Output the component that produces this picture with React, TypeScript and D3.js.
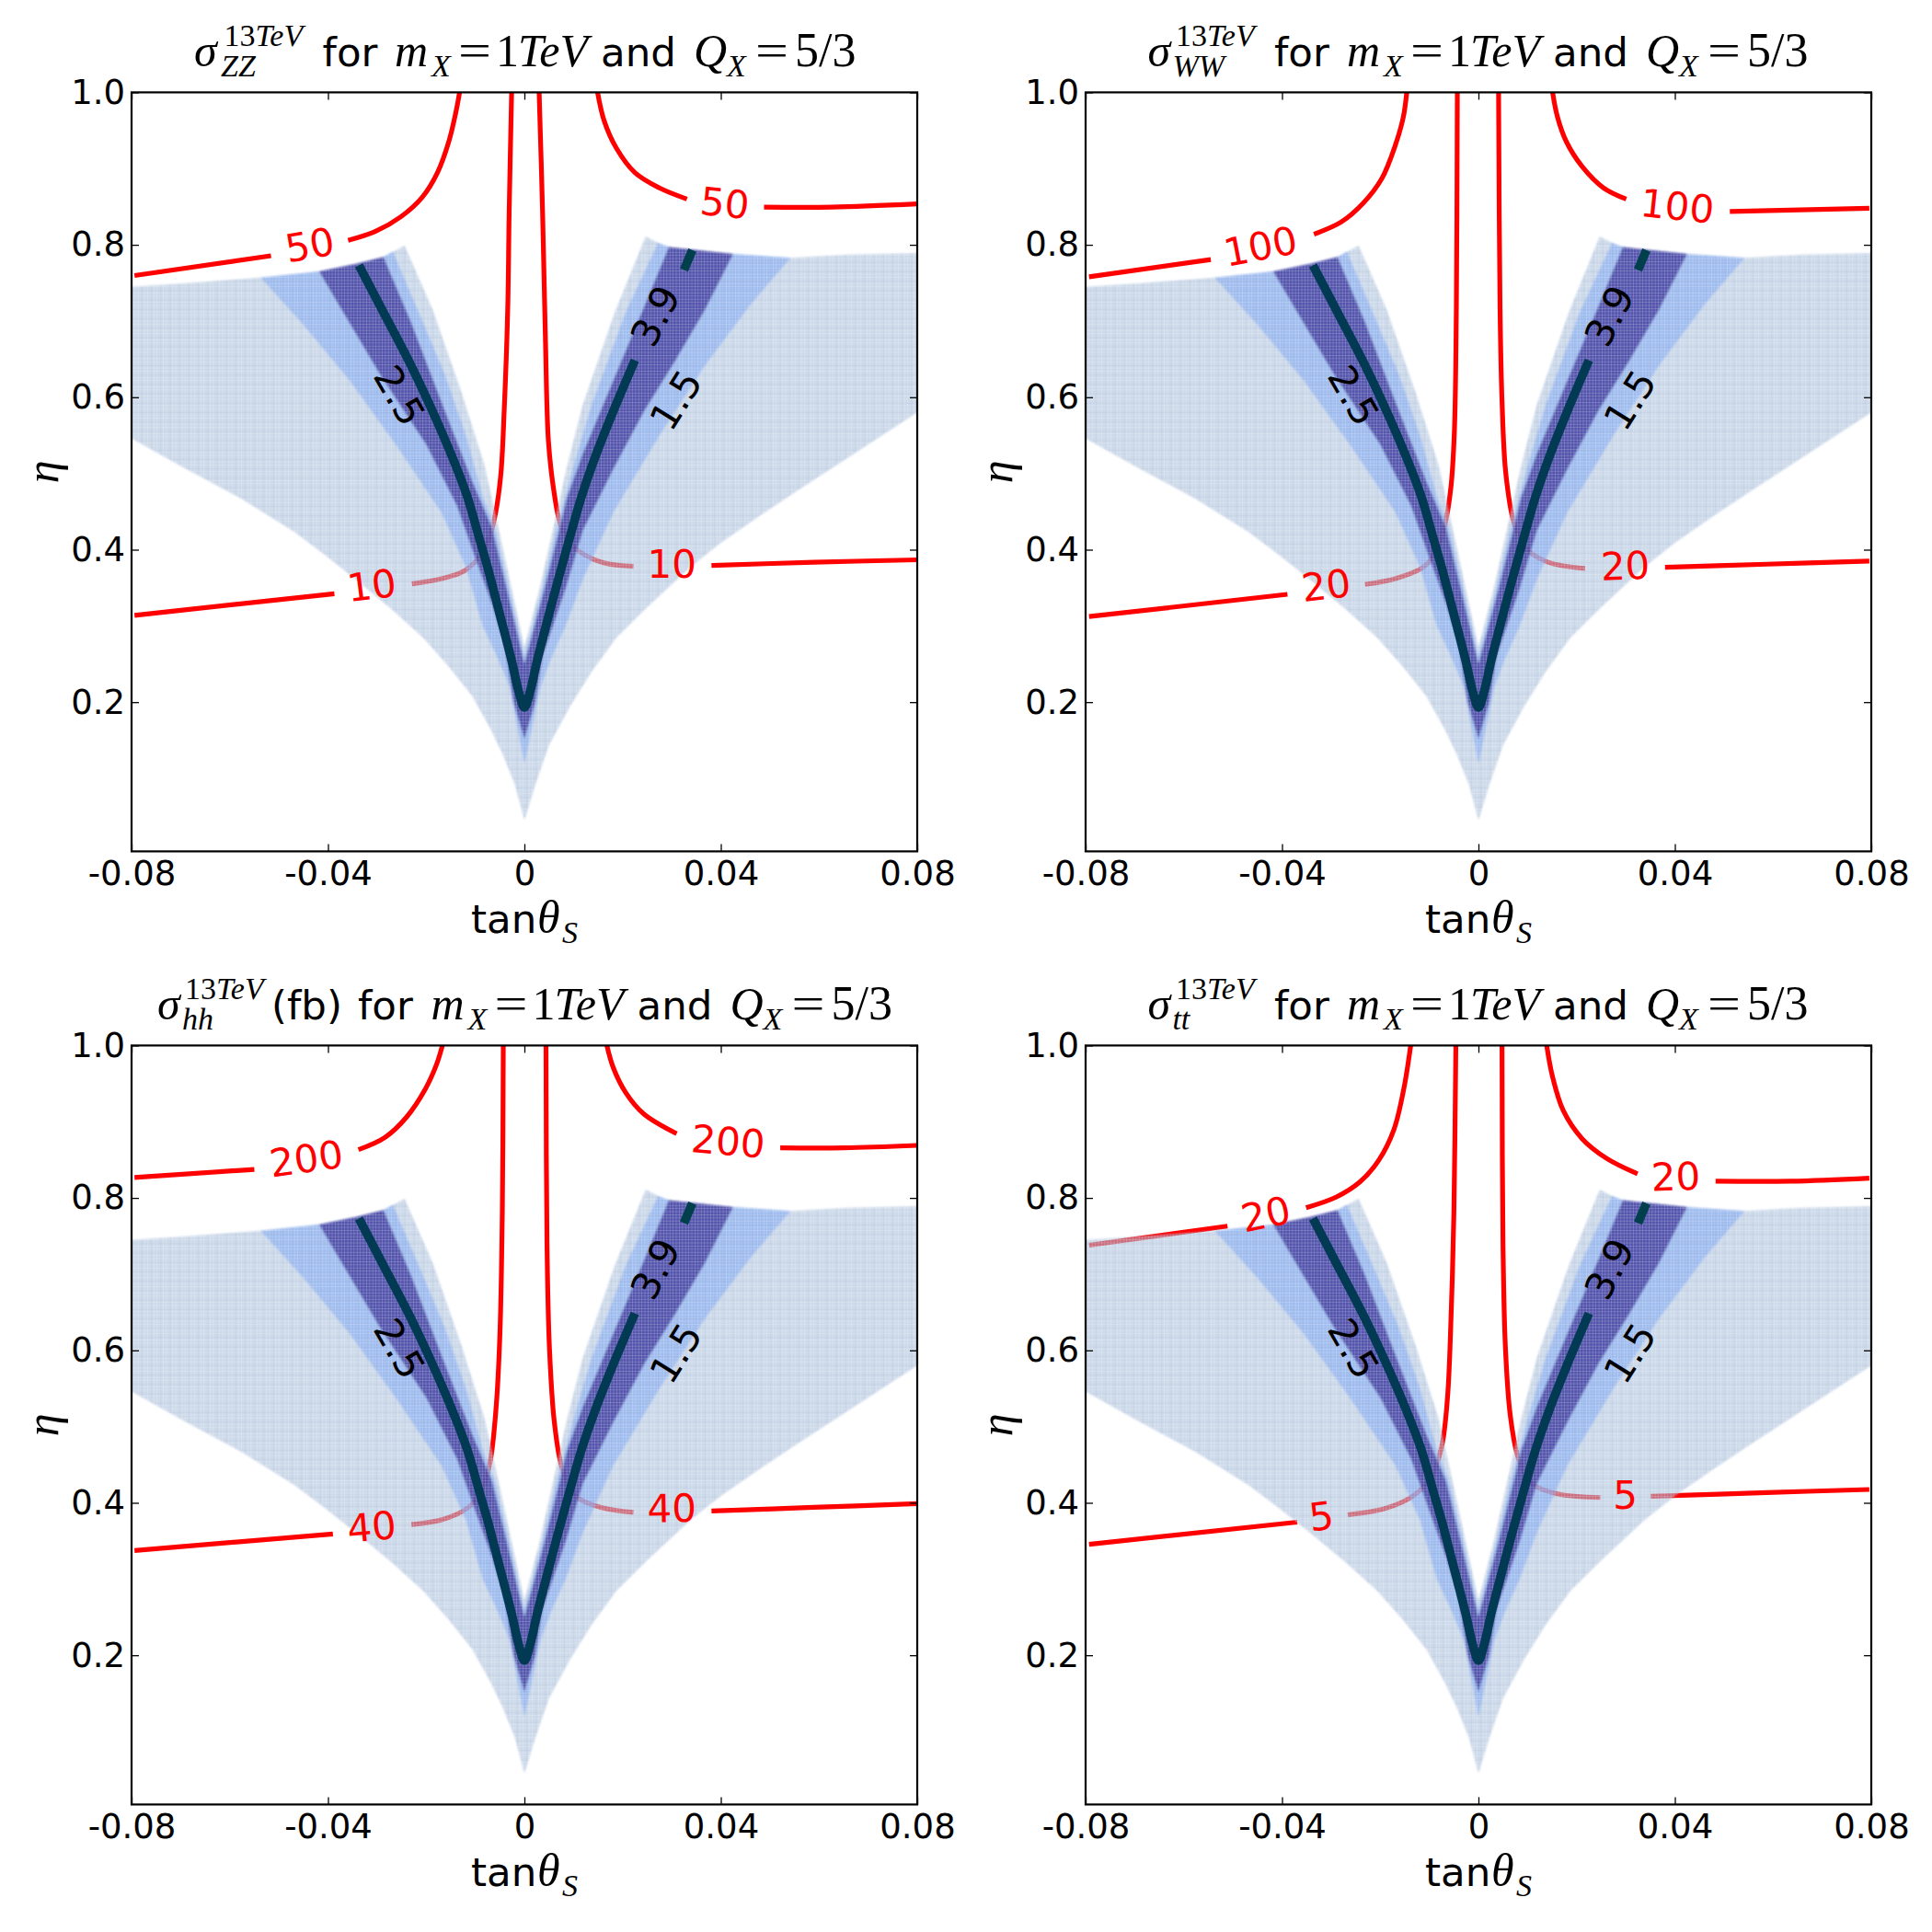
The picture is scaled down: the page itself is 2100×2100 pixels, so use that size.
import React, { useEffect, useRef } from 'react';
import * as d3 from 'd3';

type Pt = [number, number];
type Lab = [string, number, number, number];

const xTicks = [-0.08, -0.04, 0, 0.04, 0.08];
const xTickLabels = ['-0.08', '-0.04', '0', '0.04', '0.08'];
const yTicks = [0.2, 0.4, 0.6, 0.8, 1.0];

// scatter regions (tan, eta)
const lightRegion: Pt[] = [
  [-0.08, 0.745], [-0.0699, 0.749], [-0.0537, 0.757], [-0.0418, 0.765], [-0.0343, 0.775], [-0.0287, 0.784], [-0.0244, 0.799],
  [-0.0187, 0.715], [-0.0128, 0.606], [-0.0081, 0.51], [-0.0053, 0.429], [-0.0026, 0.349], [0, 0.272],
  [0.0031, 0.349], [0.0059, 0.429], [0.0087, 0.5096], [0.0119, 0.59], [0.0184, 0.711], [0.0247, 0.811],
  [0.0272, 0.8025], [0.0294, 0.797], [0.0368, 0.792], [0.0425, 0.788], [0.0542, 0.783], [0.0662, 0.787], [0.08, 0.789],
  [0.08, 0.58], [0.0681, 0.53], [0.0556, 0.4775], [0.0481, 0.4453], [0.04, 0.4091], [0.0337, 0.3768], [0.025, 0.3246],
  [0.0187, 0.2844], [0.0137, 0.2401], [0.0094, 0.1958], [0.005, 0.1435], [0.0022, 0.0913], [0, 0.045],
  [-0.0019, 0.0913], [-0.0044, 0.1314], [-0.0068, 0.1637], [-0.0106, 0.2078], [-0.0156, 0.2482], [-0.0206, 0.2844], [-0.0268, 0.3206],
  [-0.0343, 0.3608], [-0.0406, 0.393], [-0.0468, 0.4232], [-0.0575, 0.4665], [-0.0699, 0.5094], [-0.08, 0.546],
];
const mediumRegion: Pt[] = [
  [-0.0537, 0.757], [-0.0418, 0.765], [-0.0343, 0.775], [-0.0287, 0.784], [-0.0268, 0.791],
  [-0.0215, 0.711], [-0.0162, 0.63], [-0.0119, 0.55], [-0.0085, 0.47], [-0.006, 0.429], [-0.0031, 0.349], [0, 0.26],
  [0.0036, 0.349], [0.0066, 0.429], [0.01, 0.5096], [0.0137, 0.59], [0.0206, 0.711], [0.0272, 0.8025],
  [0.0294, 0.797], [0.0368, 0.792], [0.0425, 0.788], [0.0542, 0.783],
  [0.0462, 0.723], [0.0368, 0.642], [0.0275, 0.55], [0.0181, 0.449], [0.0119, 0.361], [0.0084, 0.3], [0.0056, 0.26], [0.0033, 0.22], [0, 0.119],
  [-0.003, 0.22], [-0.0056, 0.26], [-0.0085, 0.3], [-0.0119, 0.377], [-0.0169, 0.449], [-0.0262, 0.538], [-0.0356, 0.622], [-0.045, 0.695],
];
const darkRegion: Pt[] = [
  [-0.0418, 0.765], [-0.0343, 0.775], [-0.0287, 0.784],
  [-0.0231, 0.6987], [-0.0169, 0.594], [-0.0106, 0.4895], [-0.0066, 0.429], [-0.0036, 0.349], [0, 0.25],
  [0.0041, 0.349], [0.0072, 0.429], [0.0087, 0.469], [0.0119, 0.526], [0.0181, 0.622], [0.0244, 0.719], [0.0294, 0.797],
  [0.0368, 0.792], [0.0425, 0.788],
  [0.0368, 0.715], [0.0306, 0.6465], [0.0244, 0.582], [0.0181, 0.5056], [0.0119, 0.425], [0.0084, 0.349], [0.0037, 0.26], [0.0022, 0.2], [0, 0.1516],
  [-0.0022, 0.2], [-0.0041, 0.276], [-0.0066, 0.3286], [-0.01, 0.389], [-0.0137, 0.457], [-0.02, 0.538], [-0.0294, 0.63], [-0.0387, 0.731],
];

// navy contour, same in every panel
const navyLower: Pt[] = [
  [-0.0337, 0.773], [-0.029, 0.715], [-0.0228, 0.638], [-0.0179, 0.57], [-0.0137, 0.5056], [-0.0116, 0.469], [-0.0091, 0.413],
  [-0.0075, 0.377], [-0.0052, 0.32], [-0.0025, 0.252], [-0.0012, 0.215], [0, 0.193],
  [0.0012, 0.215], [0.0025, 0.252], [0.0048, 0.31], [0.0069, 0.361], [0.0092, 0.415], [0.0116, 0.469], [0.0145, 0.523], [0.018, 0.58], [0.0225, 0.6484],
];
const navyUpper: Pt[] = [[0.0325, 0.767], [0.0342, 0.793]];
const blackLabels: Lab[] = [['2.5', -0.0255, 0.6022, 60], ['3.9', 0.0267, 0.7068, -63], ['1.5', 0.0309, 0.5961, -58]];

// red contours, one list of cut segments per panel
const zzContours: Pt[][] = [
  [[-0.0794, 0.7597], [-0.0516, 0.7856]],
  [[-0.0359, 0.8058], [-0.0302, 0.818], [-0.0252, 0.8366], [-0.0208, 0.8625], [-0.0177, 0.8948], [-0.0154, 0.9353], [-0.0139, 0.9757], [-0.0132, 1]],
  [[0.0149, 1], [0.0162, 0.9636], [0.0187, 0.9272], [0.0225, 0.8948], [0.0275, 0.8746], [0.0331, 0.86]],
  [[0.0488, 0.8495], [0.0626, 0.8495], [0.08, 0.8536]],
  [[-0.0794, 0.3139], [-0.0387, 0.3422]],
  [[-0.0229, 0.3552], [-0.0171, 0.3616], [-0.0124, 0.3716], [-0.0091, 0.3909], [-0.0071, 0.4168], [-0.0059, 0.447], [-0.0048, 0.4987], [-0.0041, 0.5849], [-0.0034, 0.7143], [-0.0031, 0.8436], [-0.0026, 1]],
  [[0.003, 1], [0.0037, 0.8436], [0.0043, 0.6711], [0.0049, 0.5418], [0.006, 0.4771], [0.0073, 0.434], [0.0093, 0.4082], [0.0123, 0.3931], [0.0163, 0.3824], [0.0222, 0.378]],
  [[0.0381, 0.3794], [0.0589, 0.3835], [0.08, 0.3867]],
];
const zzLabels: Lab[] = [['50', -0.0437, 0.7994, -10], ['50', 0.0408, 0.8544, 6], ['10', -0.0311, 0.3528, -7], ['10', 0.03, 0.381, 0]];

const wwContours: Pt[][] = [
  [[-0.0793, 0.7581], [-0.0545, 0.7807]],
  [[-0.0335, 0.8139], [-0.0279, 0.8301], [-0.0235, 0.8544], [-0.0197, 0.8867], [-0.0169, 0.9312], [-0.0153, 0.9676], [-0.0146, 1]],
  [[0.0151, 1], [0.0161, 0.9676], [0.0179, 0.9353], [0.0211, 0.9029], [0.0255, 0.8746], [0.0301, 0.86]],
  [[0.0512, 0.8438], [0.0796, 0.8479]],
  [[-0.0793, 0.3123], [-0.0389, 0.3414]],
  [[-0.0231, 0.3544], [-0.0166, 0.3625], [-0.0109, 0.3786], [-0.0084, 0.4013], [-0.0068, 0.4337], [-0.0056, 0.4822], [-0.0049, 0.555], [-0.0045, 0.7168], [-0.0043, 1]],
  [[0.0041, 1], [0.0044, 0.7168], [0.0048, 0.5955], [0.0056, 0.4984], [0.0073, 0.4337], [0.0098, 0.4013], [0.0142, 0.3835], [0.0217, 0.3754]],
  [[0.038, 0.377], [0.0587, 0.381], [0.0796, 0.3851]],
];
const wwLabels: Lab[] = [['100', -0.0444, 0.7977, -11], ['100', 0.0405, 0.8503, 6], ['20', -0.031, 0.3528, -7], ['20', 0.0299, 0.3786, -2]];

const hhContours: Pt[][] = [
  [[-0.0794, 0.8269], [-0.055, 0.8374]],
  [[-0.0338, 0.8633], [-0.0284, 0.8794], [-0.024, 0.9061], [-0.0202, 0.9426], [-0.0179, 0.9749], [-0.0167, 1]],
  [[0.0168, 1], [0.0181, 0.9709], [0.0206, 0.9385], [0.0243, 0.9102], [0.031, 0.8843]],
  [[0.0521, 0.8657], [0.0651, 0.8657], [0.08, 0.8689]],
  [[-0.0794, 0.3374], [-0.039, 0.3592]],
  [[-0.023, 0.3714], [-0.0164, 0.3786], [-0.0114, 0.394], [-0.0087, 0.4167], [-0.007, 0.4531], [-0.0058, 0.5218], [-0.005, 0.6189], [-0.0045, 0.7807], [-0.0043, 1]],
  [[0.0044, 1], [0.0046, 0.7403], [0.0051, 0.6028], [0.0061, 0.5057], [0.0077, 0.445], [0.0105, 0.4086], [0.0156, 0.394], [0.0222, 0.3875]],
  [[0.0381, 0.3892], [0.0589, 0.394], [0.08, 0.3989]],
];
const hhLabels: Lab[] = [['200', -0.0444, 0.8511, -8], ['200', 0.0415, 0.8738, 5], ['40', -0.0311, 0.3681, -5], ['40', 0.03, 0.3924, -1]];

const ttContours: Pt[][] = [
  [[-0.0793, 0.7379], [-0.0511, 0.763]],
  [[-0.0351, 0.7872], [-0.029, 0.801], [-0.0241, 0.8212], [-0.0203, 0.8495], [-0.0172, 0.89], [-0.0151, 0.9466], [-0.0138, 1]],
  [[0.0139, 1], [0.0151, 0.9587], [0.0173, 0.9142], [0.0211, 0.8778], [0.0261, 0.8519], [0.0324, 0.8317]],
  [[0.0483, 0.822], [0.0637, 0.822], [0.0796, 0.826]],
  [[-0.0793, 0.3455], [-0.0369, 0.3746]],
  [[-0.0266, 0.3843], [-0.0191, 0.3924], [-0.0134, 0.4086], [-0.0097, 0.4329], [-0.0075, 0.4733], [-0.0063, 0.538], [-0.0055, 0.6594], [-0.005, 0.7807], [-0.0046, 1]],
  [[0.0048, 1], [0.005, 0.7403], [0.0055, 0.6028], [0.0065, 0.5138], [0.0082, 0.4571], [0.011, 0.4248], [0.0161, 0.4118], [0.0248, 0.4069]],
  [[0.0351, 0.4086], [0.0587, 0.4134], [0.0796, 0.4175]],
];
const ttLabels: Lab[] = [['20', -0.0433, 0.7783, -12], ['20', 0.0402, 0.8277, -2], ['5', -0.032, 0.3819, -7], ['5', 0.0299, 0.4102, 0]];

const WIDTH = 854;
const HEIGHT = 825;
const SANS = "'DejaVu Sans'";
const SERIF = "'Liberation Serif'";

const x = d3.scaleLinear().domain([-0.08, 0.08]).range([0, WIDTH]);
const y = d3.scaleLinear().domain([0.0042, 1]).range([HEIGHT, 0]);
const line = d3.line<Pt>().x((d) => x(d[0])).y((d) => y(d[1]));
const smooth = d3.line<Pt>().x((d) => x(d[0])).y((d) => y(d[1])).curve(d3.curveCatmullRom.alpha(0.5));
const poly = d3.line<Pt>().x((d) => x(d[0])).y((d) => y(d[1])).curve(d3.curveLinearClosed);

const Axes = () => {
  const ref = useRef<SVGGElement | null>(null);
  useEffect(() => {
    const g = d3.select(ref.current);
    g.selectAll('*').remove();
    g.append('g').attr('transform', `translate(0,${HEIGHT})`)
      .call(d3.axisBottom(x).tickValues(xTicks).tickSize(-8).tickPadding(10).tickFormat((_, i) => xTickLabels[i]));
    g.append('g').call(d3.axisTop(x).tickValues(xTicks).tickSize(-8).tickFormat(() => ''));
    g.append('g')
      .call(d3.axisLeft(y).tickValues(yTicks).tickSize(-8).tickPadding(7).tickFormat(d3.format('.1f')));
    g.append('g').attr('transform', `translate(${WIDTH},0)`)
      .call(d3.axisRight(y).tickValues(yTicks).tickSize(-8).tickFormat(() => ''));
    g.selectAll('.domain').remove();
    g.selectAll('.tick line').attr('stroke', '#000').attr('stroke-width', 1.3);
    g.selectAll('text').attr('font-family', SANS).attr('font-size', 37).attr('fill', '#000');
    g.append('rect').attr('width', WIDTH).attr('height', HEIGHT)
      .attr('fill', 'none').attr('stroke', '#000').attr('stroke-width', 2.2);
  }, []);
  return <g ref={ref} />;
};

const Title = ({ sub, extra, sigmaX, supX, subX, forX, shift }) => {
  const math = { fontFamily: SERIF, fontStyle: 'italic' };
  const sans = { fontFamily: SANS, fontSize: 43.5 };
  const eq = { fontFamily: SERIF, fontSize: 50, textLength: 36, lengthAdjust: 'spacingAndGlyphs' };
  return (
    <g transform="translate(0,-28)" fill="#000">
      <text x={sigmaX} style={math} fontSize={50}>σ</text>
      <text x={supX} y={-22} fontFamily={SERIF} fontSize={34}>13<tspan fontStyle="italic">TeV</tspan></text>
      <text x={subX} y={11} style={math} fontSize={34}>{sub}</text>
      {extra && <text x={152} style={sans}>{extra}</text>}
      <text x={forX} style={sans}>for</text>
      <text x={286 + shift} style={math} fontSize={50}>m</text>
      <text x={326 + shift} y={11} style={math} fontSize={34}>X</text>
      <text x={355 + shift} {...eq}>=</text>
      <text x={396 + shift} fontFamily={SERIF} fontSize={50}>1</text>
      <text x={420 + shift} style={math} fontSize={50}>TeV</text>
      <text x={510 + shift} style={sans}>and</text>
      <text x={611 + shift} style={math} fontSize={50}>Q</text>
      <text x={647 + shift} y={11} style={math} fontSize={34}>X</text>
      <text x={678 + shift} {...eq}>=</text>
      <text x={721 + shift} fontFamily={SERIF} fontSize={52}>5/3</text>
    </g>
  );
};

const Panel = ({ id, left, top, contours, labels, title }) => (
  <g transform={`translate(${left},${top})`}>
    <clipPath id={`clip-${id}`}><rect width={WIDTH} height={HEIGHT} /></clipPath>
    <clipPath id={`light-${id}`}><path d={poly(lightRegion) as string} /></clipPath>
    <g clipPath={`url(#clip-${id})`}>
      {contours.map((seg: Pt[], i: number) => (
        <path key={i} d={(seg.length > 2 ? smooth(seg) : line(seg)) as string} fill="none" stroke="#ff0000" strokeWidth={5.2} />
      ))}
      <g filter="url(#soft)">
        <path d={poly(lightRegion) as string} fill="rgb(168,191,219)" fillOpacity={0.576} />
        <path d={poly(mediumRegion) as string} fill="rgb(130,170,245)" fillOpacity={0.6} />
        <path d={poly(darkRegion) as string} fill="rgb(60,50,150)" fillOpacity={0.75} />
      </g>
      <g clipPath={`url(#light-${id})`}>
        <rect width={WIDTH} height={HEIGHT} fill="url(#coarse)" />
        <rect width={WIDTH} height={HEIGHT} fill="url(#lattice)" />
      </g>
      <path d={smooth(navyLower) as string} fill="none" stroke="#013a52" strokeWidth={9.5} strokeLinejoin="round" />
      <path d={line(navyUpper) as string} fill="none" stroke="#013f4c" strokeWidth={9.5} />
    </g>
    {blackLabels.map(([t, a, b, r]) => (
      <text key={t} transform={`translate(${x(a)},${y(b)}) rotate(${r})`} textAnchor="middle" dominantBaseline="central"
        fontFamily={SANS} fontSize={42} fill="#000">{t}</text>
    ))}
    {labels.map(([t, a, b, r]: Lab, i: number) => (
      <text key={i} transform={`translate(${x(a)},${y(b)}) rotate(${r})`} textAnchor="middle" dominantBaseline="central"
        fontFamily={SANS} fontSize={42} fill="#ff0000">{t}</text>
    ))}
    <Axes />
    <Title {...title} />
    <text x={369} y={914} fontFamily={SANS} fontSize={43.5}>tan</text>
    <text x={441} y={914} fontFamily={SERIF} fontStyle="italic" fontSize={50}>θ</text>
    <text x={468} y={925} fontFamily={SERIF} fontStyle="italic" fontSize={34}>S</text>
    <text transform={`translate(-80,${HEIGHT / 2}) rotate(-90)`} textAnchor="middle" fontFamily={SERIF} fontStyle="italic" fontSize={50}>η</text>
  </g>
);

export default function App() {
  return (
    <svg width={2100} height={2100} style={{ position: 'absolute', left: 0, top: 0, display: 'block', background: '#fff' }}>
      <defs>
        <filter id="soft" x="-5%" y="-5%" width="110%" height="110%"><feGaussianBlur stdDeviation={1.1} /></filter>
        <pattern id="lattice" patternUnits="userSpaceOnUse" width={3.4} height={3.4}>
          <rect width={3.4} height={0.8} fill="#fff" fillOpacity={0.2} />
          <rect width={0.8} height={3.4} fill="#fff" fillOpacity={0.2} />
        </pattern>
        <pattern id="coarse" patternUnits="userSpaceOnUse" width={10.2} height={10.2}>
          <rect width={10.2} height={1.6} fill="#5a6aa0" fillOpacity={0.09} />
          <rect width={1.6} height={10.2} fill="#5a6aa0" fillOpacity={0.09} />
        </pattern>
      </defs>
      <Panel id="zz" left={143} top={100.4} contours={zzContours} labels={zzLabels}
        title={{ sub: 'ZZ', sigmaX: 68, supX: 100.5, subX: 97, forX: 207.6, shift: 0 }} />
      <Panel id="ww" left={1180} top={100.4} contours={wwContours} labels={wwLabels}
        title={{ sub: 'WW', sigmaX: 67.6, supX: 98, subX: 94.4, forX: 205, shift: -2 }} />
      <Panel id="hh" left={143} top={1136.4} contours={hhContours} labels={hhLabels}
        title={{ sub: 'hh', extra: '(fb)', sigmaX: 28, supX: 58, subX: 55, forX: 246, shift: 39.5 }} />
      <Panel id="tt" left={1180} top={1136.4} contours={ttContours} labels={ttLabels}
        title={{ sub: 'tt', sigmaX: 67.6, supX: 98, subX: 94.4, forX: 205, shift: -2 }} />
    </svg>
  );
}
